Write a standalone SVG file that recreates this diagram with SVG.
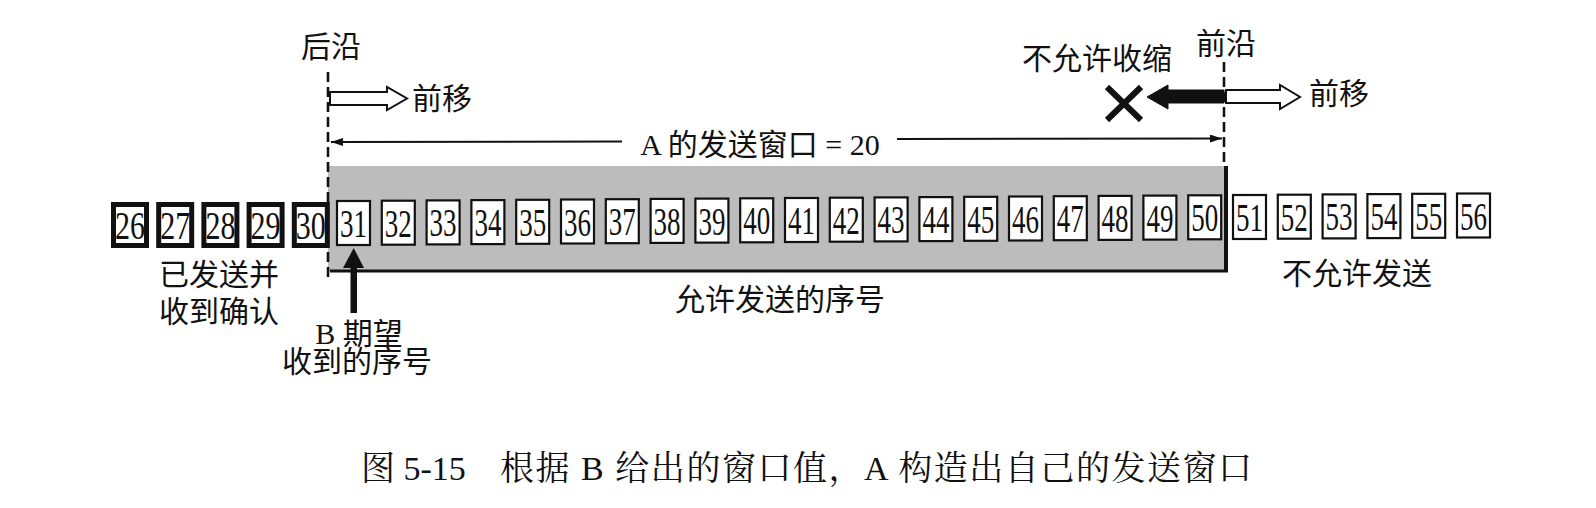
<svg xmlns="http://www.w3.org/2000/svg" width="1596" height="508" viewBox="0 0 1596 508">
<style>
.lbl{font-family:"Noto Sans CJK SC","Noto Sans",sans-serif;font-size:30px;fill:#111}
.mix{font-family:"Liberation Serif","Noto Sans CJK SC",serif;font-size:30px;fill:#111}
.cap{font-family:"Liberation Serif","Noto Serif CJK SC","Noto Sans CJK SC",serif;font-size:34px;fill:#111}
.num{font-family:"Liberation Serif","Times New Roman",serif;font-size:40px;fill:#111;text-anchor:middle}
.b{fill:#fff;stroke:#111;stroke-width:2.2}
.tb{fill:#fff;stroke:#111;stroke-width:5}
.dash{stroke:#111;stroke-width:2.6;stroke-dasharray:10 5;fill:none}
.hollow{fill:#fff;stroke:#111;stroke-width:2;stroke-linejoin:miter}
.solid{fill:#111;stroke:#111;stroke-width:1}
.dim{stroke:#111;stroke-width:2;fill:none}
</style>
<defs>
<marker id="ah" viewBox="0 0 12 8" refX="12" refY="4" markerWidth="12" markerHeight="8" markerUnits="userSpaceOnUse" orient="auto-start-reverse">
<path d="M0,0 L12,4 L0,8 Z" fill="#111"/>
</marker>
</defs>
<rect width="1596" height="508" fill="#fff"/>

<g id="window">
<rect x="328" y="166" width="898" height="105" fill="#bcbcbc"/>
<line x1="330" y1="271" x2="1228" y2="271" stroke="#111" stroke-width="3"/>
<line x1="1226" y1="166" x2="1226" y2="272" stroke="#111" stroke-width="4"/>
</g>

<g id="edges">
<line class="dash" x1="328" y1="72" x2="328" y2="280"/>
<line class="dash" x1="1224" y1="62" x2="1224" y2="166"/>
</g>

<g id="box26"><rect class="tb" x="113.5" y="204.5" width="33" height="41"/><text class="num" x="130" y="239" textLength="30" lengthAdjust="spacingAndGlyphs">26</text></g>
<g id="box27"><rect class="tb" x="158.7" y="204.5" width="33" height="41"/><text class="num" x="175.2" y="239" textLength="30" lengthAdjust="spacingAndGlyphs">27</text></g>
<g id="box28"><rect class="tb" x="203.9" y="204.5" width="33" height="41"/><text class="num" x="220.4" y="239" textLength="30" lengthAdjust="spacingAndGlyphs">28</text></g>
<g id="box29"><rect class="tb" x="249.1" y="204.5" width="33" height="41"/><text class="num" x="265.6" y="239" textLength="30" lengthAdjust="spacingAndGlyphs">29</text></g>
<g id="box30"><rect class="tb" x="294.3" y="204.5" width="33" height="41"/><text class="num" x="310.8" y="239" textLength="30" lengthAdjust="spacingAndGlyphs">30</text></g>

<g id="box31"><rect class="b" x="337" y="201" width="33" height="44"/><text class="num" x="353.5" y="237" textLength="27" lengthAdjust="spacingAndGlyphs">31</text></g>
<g id="box32"><rect class="b" x="381.8" y="200.7" width="33" height="44"/><text class="num" x="398.3" y="236.7" textLength="27" lengthAdjust="spacingAndGlyphs">32</text></g>
<g id="box33"><rect class="b" x="426.6" y="200.4" width="33" height="44"/><text class="num" x="443.1" y="236.4" textLength="27" lengthAdjust="spacingAndGlyphs">33</text></g>
<g id="box34"><rect class="b" x="471.4" y="200.1" width="33" height="44"/><text class="num" x="487.9" y="236.1" textLength="27" lengthAdjust="spacingAndGlyphs">34</text></g>
<g id="box35"><rect class="b" x="516.2" y="199.8" width="33" height="44"/><text class="num" x="532.7" y="235.8" textLength="27" lengthAdjust="spacingAndGlyphs">35</text></g>
<g id="box36"><rect class="b" x="561" y="199.5" width="33" height="44"/><text class="num" x="577.5" y="235.5" textLength="27" lengthAdjust="spacingAndGlyphs">36</text></g>
<g id="box37"><rect class="b" x="605.8" y="199.2" width="33" height="44"/><text class="num" x="622.3" y="235.2" textLength="27" lengthAdjust="spacingAndGlyphs">37</text></g>
<g id="box38"><rect class="b" x="650.6" y="198.9" width="33" height="44"/><text class="num" x="667.1" y="234.9" textLength="27" lengthAdjust="spacingAndGlyphs">38</text></g>
<g id="box39"><rect class="b" x="695.4" y="198.6" width="33" height="44"/><text class="num" x="711.9" y="234.6" textLength="27" lengthAdjust="spacingAndGlyphs">39</text></g>
<g id="box40"><rect class="b" x="740.2" y="198.3" width="33" height="44"/><text class="num" x="756.7" y="234.3" textLength="27" lengthAdjust="spacingAndGlyphs">40</text></g>
<g id="box41"><rect class="b" x="785" y="198" width="33" height="44"/><text class="num" x="801.5" y="234" textLength="27" lengthAdjust="spacingAndGlyphs">41</text></g>
<g id="box42"><rect class="b" x="829.8" y="197.7" width="33" height="44"/><text class="num" x="846.3" y="233.7" textLength="27" lengthAdjust="spacingAndGlyphs">42</text></g>
<g id="box43"><rect class="b" x="874.6" y="197.4" width="33" height="44"/><text class="num" x="891.1" y="233.4" textLength="27" lengthAdjust="spacingAndGlyphs">43</text></g>
<g id="box44"><rect class="b" x="919.4" y="197.1" width="33" height="44"/><text class="num" x="935.9" y="233.1" textLength="27" lengthAdjust="spacingAndGlyphs">44</text></g>
<g id="box45"><rect class="b" x="964.2" y="196.8" width="33" height="44"/><text class="num" x="980.7" y="232.8" textLength="27" lengthAdjust="spacingAndGlyphs">45</text></g>
<g id="box46"><rect class="b" x="1009" y="196.5" width="33" height="44"/><text class="num" x="1025.5" y="232.5" textLength="27" lengthAdjust="spacingAndGlyphs">46</text></g>
<g id="box47"><rect class="b" x="1053.8" y="196.2" width="33" height="44"/><text class="num" x="1070.3" y="232.2" textLength="27" lengthAdjust="spacingAndGlyphs">47</text></g>
<g id="box48"><rect class="b" x="1098.6" y="195.9" width="33" height="44"/><text class="num" x="1115.1" y="231.9" textLength="27" lengthAdjust="spacingAndGlyphs">48</text></g>
<g id="box49"><rect class="b" x="1143.4" y="195.6" width="33" height="44"/><text class="num" x="1159.9" y="231.6" textLength="27" lengthAdjust="spacingAndGlyphs">49</text></g>
<g id="box50"><rect class="b" x="1188.2" y="195.3" width="33" height="44"/><text class="num" x="1204.7" y="231.3" textLength="27" lengthAdjust="spacingAndGlyphs">50</text></g>
<g id="box51"><rect class="b" x="1233" y="195" width="33" height="44"/><text class="num" x="1249.5" y="231" textLength="27" lengthAdjust="spacingAndGlyphs">51</text></g>
<g id="box52"><rect class="b" x="1277.8" y="194.7" width="33" height="44"/><text class="num" x="1294.3" y="230.7" textLength="27" lengthAdjust="spacingAndGlyphs">52</text></g>
<g id="box53"><rect class="b" x="1322.6" y="194.4" width="33" height="44"/><text class="num" x="1339.1" y="230.4" textLength="27" lengthAdjust="spacingAndGlyphs">53</text></g>
<g id="box54"><rect class="b" x="1367.4" y="194.1" width="33" height="44"/><text class="num" x="1383.9" y="230.1" textLength="27" lengthAdjust="spacingAndGlyphs">54</text></g>
<g id="box55"><rect class="b" x="1412.2" y="193.8" width="33" height="44"/><text class="num" x="1428.7" y="229.8" textLength="27" lengthAdjust="spacingAndGlyphs">55</text></g>
<g id="box56"><rect class="b" x="1457" y="193.5" width="33" height="44"/><text class="num" x="1473.5" y="229.5" textLength="27" lengthAdjust="spacingAndGlyphs">56</text></g>

<g id="connectors">
<polygon class="hollow" points="330,92 387,92 387,87 407,98.5 387,110 387,105 330,105"/>
<polygon class="hollow" points="1226,90 1280,90 1280,85 1300,97 1280,109 1280,103 1226,103"/>
<polygon class="solid" points="1224,90 1168,90 1168,85 1147,97 1168,109 1168,103 1224,103"/>
<line x1="622" y1="141.5" x2="331" y2="142" class="dim" marker-end="url(#ah)"/>
<line x1="897" y1="139" x2="1222" y2="138.5" class="dim" marker-end="url(#ah)"/>
<rect x="350.5" y="264" width="6.5" height="49" fill="#111"/>
<polygon points="343,268 353.7,248 364,268" fill="#111"/>
</g>

<g id="cross">
<line x1="1107" y1="87" x2="1141" y2="120" stroke="#111" stroke-width="6"/>
<line x1="1141" y1="87" x2="1107" y2="120" stroke="#111" stroke-width="6"/>
</g>

<g id="labels">
<text class="lbl" x="301" y="57">后沿</text>
<text class="lbl" x="1196" y="54">前沿</text>
<text class="lbl" x="1022" y="69">不允许收缩</text>
<text class="lbl" x="412" y="109">前移</text>
<text class="lbl" x="1309" y="104">前移</text>
<text class="mix" x="760" y="155" text-anchor="middle">A 的发送窗口 = 20</text>
<text class="lbl" x="219" y="285" text-anchor="middle">已发送并</text>
<text class="lbl" x="219" y="322" text-anchor="middle">收到确认</text>
<text class="mix" x="359" y="344" text-anchor="middle">B 期望</text>
<text class="lbl" x="357" y="372" text-anchor="middle">收到的序号</text>
<text class="lbl" x="780" y="310" text-anchor="middle">允许发送的序号</text>
<text class="lbl" x="1357" y="284" text-anchor="middle">不允许发送</text>
</g>

<g id="caption">
<text class="cap" x="361" y="480">图 5-15</text>
<text class="cap" x="500" y="480" textLength="752" lengthAdjust="spacing">根据 B 给出的窗口值，A 构造出自己的发送窗口</text>
</g>
</svg>
